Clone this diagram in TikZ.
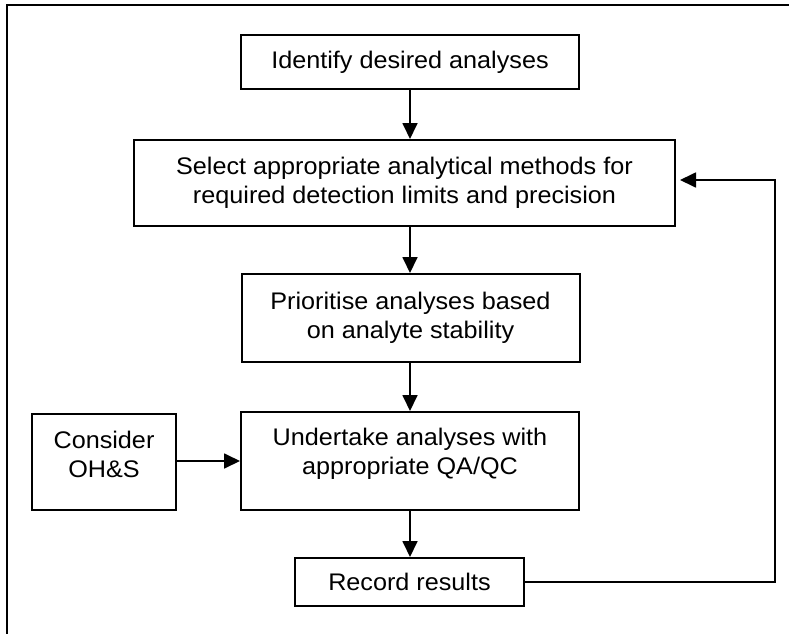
\documentclass[tikz,border=0pt]{standalone}
\usepackage{fontspec}
\setmainfont{Liberation Sans}[FakeStretch=1.05]
\usetikzlibrary{arrows.meta}

\tikzset{
  box/.style={draw=black, line width=2pt, fill=white, inner sep=0pt, align=center},
  txt/.style={inner sep=0pt, align=center},
  flow/.style={line width=1.8pt, -{Triangle[length=16pt,width=15pt]}},
  frame/.style={line width=2pt}
}

\begin{document}
\begin{tikzpicture}[x=1pt, y=-1pt, font=\fontsize{24}{29}\selectfont]
  \useasboundingbox (0,0) rectangle (789,634);

  % open frame: top and left edges only
  \coordinate (frametr) at (789,5);
  \coordinate (frametl) at (7,5);
  \coordinate (framebl) at (7,634);
  \draw[frame] (frametr) -- (frametl) -- (framebl);

  % process boxes
  \node[box, minimum width=338pt, minimum height=54pt] (ident) at (410,62)
    {Identify desired analyses};
  \node[box, minimum width=541pt, minimum height=86pt] (select) at (404.5,183)
    {Select appropriate analytical methods for\\required detection limits and precision};
  \node[box, minimum width=338pt, minimum height=88pt] (prior) at (410.5,318)
    {Prioritise analyses based\\on analyte stability};
  \node[box, minimum width=338pt, minimum height=98pt] (under) at (410,461) {};
  \node[txt] (undertext) at (410,454) {Undertake analyses with\\appropriate QA/QC};
  \node[box, minimum width=144pt, minimum height=96pt] (ohs) at (104,462) {};
  \node[txt] (ohstext) at (104,454) {Consider\\OH\&S};
  \node[box, minimum width=229pt, minimum height=48pt] (record) at (409.5,582)
    {Record results};

  % connectors
  \draw[flow] (ident.south -| 410,0) -- (select.north -| 410,0);
  \draw[flow] (select.south -| 410,0) -- (prior.north -| 410,0);
  \draw[flow] (prior.south -| 410,0) -- (under.north -| 410,0);
  \draw[flow] (under.south -| 410,0) -- (record.north -| 410,0);
  \draw[flow] (ohs.east |- 0,461) -- (under.west |- 0,461);

  % feedback loop back to method selection
  \coordinate (loopbot) at (775,582);
  \coordinate (looptop) at (775,180);
  \draw[flow, shorten >=4pt] (record.east) -- (loopbot) -- (looptop) -- (select.east |- looptop);
\end{tikzpicture}
\end{document}
